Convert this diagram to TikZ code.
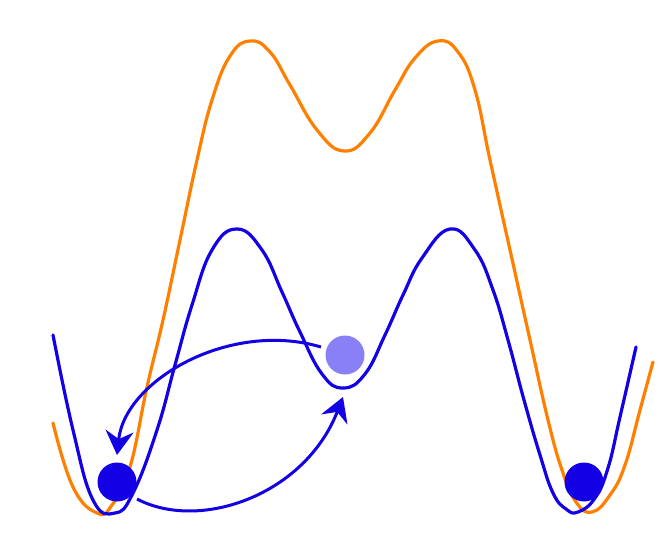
\documentclass[tikz,border=0pt]{standalone}
\usetikzlibrary{arrows.meta}
\definecolor{potblue}{RGB}{20,0,228}
\definecolor{potorange}{RGB}{255,128,0}
\definecolor{ballpale}{RGB}{138,128,245}
\tikzset{
  curve/.style={line width=3.2pt, line cap=round, line join=round},
  ball/.style={circle, fill=potblue, minimum size=39pt, inner sep=0pt},
  paleball/.style={circle, fill=ballpale, minimum size=39pt, inner sep=0pt},
  hop/.style={line width=3pt, draw=potblue, -{Stealth[length=24pt,width=28pt,inset=8pt]}}
}
\begin{document}
\begin{tikzpicture}[x=1pt,y=-1pt]
\useasboundingbox (0,0) rectangle (664,540);
% orange potential
\draw[curve, potorange] plot[smooth, tension=0.75] coordinates {
 (53,423) (73,487) (97,513) (112,505) (130,467) (147,387) (163,320) (180,240)
 (197,160) (212,100) (230,56) (250,41) (270,52) (290,85) (317,130) (344,151)
 (370,133) (395,90) (415,58) (438,41) (458,52) (475,90) (490,160) (510,250)
 (530,340) (548,420) (562,470) (576,502) (592,512) (610,495) (625,465) (640,410) (653,362)};
% blue potential
\draw[curve, potblue] plot[smooth, tension=0.75] coordinates {
 (53,335) (73,430) (93,500) (115,513) (133,493) (157,430) (175,365) (192,305)
 (212,250) (237,229) (262,250) (282,292) (300,332) (322,374) (343,388) (365,374)
 (385,335) (403,295) (422,258) (450,229) (475,250) (493,290) (508,340) (524,400)
 (540,455) (553,493) (566,509) (578,512) (595,498) (608,468) (620,417) (636,347)};
% balls
\node[ball] (left) at (117,482) {};
\node[ball] (right) at (584,482) {};
\node[paleball] (mid) at (345,355) {};
% hop arrows
\coordinate (a1s) at (321,347);
\coordinate (a1e) at (117,455);
\coordinate (a2s) at (137,499);
\coordinate (a2e) at (343,397);
\draw[hop] (a1s) .. controls (230,320) and (125,380) .. (a1e);
\draw[hop] (a2s) .. controls (200,532) and (305,495) .. (a2e);
\end{tikzpicture}
\end{document}
